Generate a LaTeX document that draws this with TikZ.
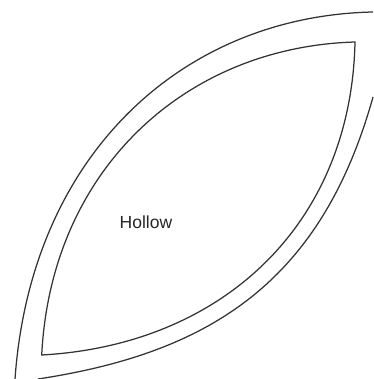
\documentclass[tikz,border=0pt]{standalone}
\usepackage{fontspec}
\setmainfont{Liberation Sans}
\tikzset{
  wall/.style={draw=black!80, line width=1.25pt},
  tag/.style={font=\fontsize{17.5}{20}\selectfont, text=black!85, inner sep=0pt}
}
\begin{document}
\begin{tikzpicture}[x=1pt,y=-1pt]
  \useasboundingbox (0,0) rectangle (373,379);
  % outer lens
  \coordinate (outerleft) at (15,379);
  \coordinate (outertop) at (373,12);
  \coordinate (outerbottom) at (38,379);
  \coordinate (outerright) at (373,97);
  \draw[wall] (outerleft) .. controls (31,154) and (183,16) .. (outertop);
  \draw[wall] (outerbottom) .. controls (209,353) and (321,283) .. (outerright);
  % inner hollow
  \coordinate (innertip) at (355,42);
  \coordinate (innerend) at (41.7,355);
  \draw[wall] (innerend) .. controls (51,170) and (185,47) .. (innertip)
    .. controls (351,225) and (222,345) .. (innerend) -- cycle;
  \node[tag] (hollow) at (146,222) {Hollow};
\end{tikzpicture}
\end{document}
